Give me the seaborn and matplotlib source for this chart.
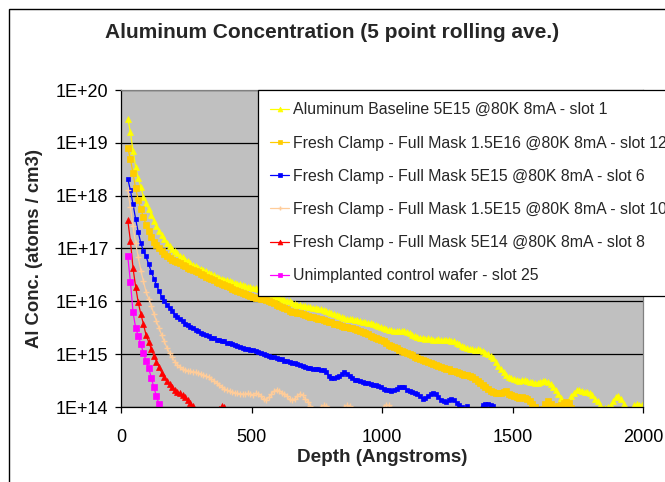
import numpy as np
import pandas as pd
import matplotlib
matplotlib.use("Agg")
import matplotlib.pyplot as plt
from matplotlib.patches import Rectangle
import seaborn as sns

# ---------------- data ----------------
depth_start = 26   # Angstrom, depth of first averaged sample
depth_step = 10    # Angstrom between samples

series_labels = [
    "Aluminum Baseline 5E15 @80K 8mA - slot 1",
    "Fresh Clamp - Full Mask 1.5E16 @80K 8mA - slot 12",
    "Fresh Clamp - Full Mask 5E15 @80K 8mA - slot 6",
    "Fresh Clamp - Full Mask 1.5E15 @80K 8mA - slot 10",
    "Fresh Clamp - Full Mask 5E14 @80K 8mA - slot 8",
    "Unimplanted control wafer - slot 25",
]
series_colors = ["#FFFF00", "#FFCC00", "#0000FF", "#FFCC99", "#FF0000", "#FF00FF"]

# log10 of Al concentration (atoms/cm3)
slot1_log = [
    19.46, 19.20, 18.85, 18.55, 18.33, 18.16, 17.98, 17.86, 17.74, 17.64,
    17.52, 17.42, 17.34, 17.26, 17.18, 17.11, 17.05, 16.99, 16.95, 16.91,
    16.86, 16.83, 16.79, 16.76, 16.72, 16.69, 16.67, 16.64, 16.62, 16.59,
    16.57, 16.54, 16.51, 16.49, 16.47, 16.45, 16.43, 16.41, 16.40, 16.38,
    16.36, 16.35, 16.33, 16.32, 16.30, 16.29, 16.28, 16.27, 16.26, 16.25,
    16.23, 16.21, 16.19, 16.17, 16.15, 16.13, 16.10, 16.08, 16.06, 16.04,
    16.03, 16.01, 16.00, 15.97, 15.95, 15.94, 15.93, 15.92, 15.91, 15.90,
    15.89, 15.88, 15.87, 15.86, 15.85, 15.84, 15.82, 15.80, 15.78, 15.76,
    15.74, 15.72, 15.70, 15.68, 15.67, 15.66, 15.66, 15.65, 15.65, 15.63,
    15.61, 15.60, 15.59, 15.59, 15.58, 15.56, 15.54, 15.52, 15.50, 15.48,
    15.46, 15.45, 15.44, 15.44, 15.43, 15.43, 15.43, 15.42, 15.40, 15.37,
    15.35, 15.33, 15.31, 15.30, 15.29, 15.30, 15.28, 15.27, 15.27, 15.28,
    15.27, 15.26, 15.27, 15.26, 15.25, 15.24, 15.22, 15.19, 15.16, 15.13,
    15.11, 15.10, 15.09, 15.08, 15.09, 15.08, 15.06, 15.03, 15.01, 14.97,
    14.92, 14.86, 14.78, 14.72, 14.66, 14.60, 14.57, 14.55, 14.53, 14.52,
    14.50, 14.51, 14.51, 14.49, 14.48, 14.47, 14.46, 14.45, 14.48, 14.50,
    14.49, 14.48, 14.44, 14.38, 14.32, 14.25, 14.17, 14.10, 14.06, 14.12,
    14.20, 14.27, 14.32, 14.33, 14.31, 14.29, 14.28, 14.26, 14.22, 14.16,
    14.11, 14.03, 13.96, 13.98, 14.00, 14.03, 14.12, 14.19, 14.21, 14.15,
    14.06, 13.98, 13.88, 13.95, 14.04, 14.05, 14.04, 14.03,
]
slot12_log = [
    18.91, 18.69, 18.43, 18.14, 17.92, 17.75, 17.59, 17.45, 17.33, 17.22,
    17.13, 17.06, 17.01, 16.95, 16.90, 16.86, 16.82, 16.79, 16.77, 16.74,
    16.72, 16.69, 16.66, 16.63, 16.61, 16.59, 16.57, 16.55, 16.52, 16.50,
    16.47, 16.45, 16.42, 16.40, 16.37, 16.35, 16.33, 16.31, 16.29, 16.27,
    16.24, 16.22, 16.20, 16.18, 16.16, 16.14, 16.12, 16.10, 16.08, 16.07,
    16.06, 16.05, 16.04, 16.02, 16.00, 15.98, 15.96, 15.94, 15.92, 15.90,
    15.88, 15.85, 15.82, 15.80, 15.79, 15.78, 15.77, 15.76, 15.75, 15.73,
    15.71, 15.70, 15.69, 15.67, 15.66, 15.65, 15.63, 15.61, 15.60, 15.58,
    15.57, 15.55, 15.54, 15.52, 15.51, 15.50, 15.49, 15.47, 15.46, 15.44,
    15.42, 15.40, 15.38, 15.35, 15.33, 15.31, 15.29, 15.27, 15.24, 15.21,
    15.18, 15.16, 15.14, 15.11, 15.08, 15.06, 15.04, 15.02, 15.00, 14.98,
    14.95, 14.93, 14.91, 14.89, 14.87, 14.85, 14.83, 14.81, 14.79, 14.77,
    14.75, 14.73, 14.72, 14.71, 14.69, 14.68, 14.66, 14.64, 14.62, 14.61,
    14.60, 14.59, 14.56, 14.53, 14.49, 14.45, 14.41, 14.37, 14.34, 14.31,
    14.29, 14.27, 14.26, 14.26, 14.29, 14.30, 14.25, 14.22, 14.20, 14.18,
    14.17, 14.18, 14.17, 14.15, 14.12, 14.06, 14.00, 13.94, 13.94, 13.97,
    14.05, 14.12, 14.06, 13.99, 13.99, 14.02, 14.04, 14.08, 14.10, 14.07,
    13.98, 13.90,
]
slot6_log = [
    18.32, 18.10, 17.84, 17.56, 17.31, 17.10, 16.95, 16.85, 16.70, 16.56,
    16.43, 16.31, 16.19, 16.09, 16.00, 15.93, 15.87, 15.81, 15.75, 15.70,
    15.66, 15.62, 15.58, 15.55, 15.52, 15.49, 15.46, 15.44, 15.41, 15.39,
    15.36, 15.34, 15.31, 15.30, 15.27, 15.26, 15.25, 15.24, 15.22, 15.21,
    15.19, 15.17, 15.15, 15.13, 15.11, 15.10, 15.09, 15.08, 15.07, 15.06,
    15.04, 15.02, 15.00, 14.98, 14.96, 14.95, 14.94, 14.92, 14.91, 14.90,
    14.88, 14.87, 14.85, 14.84, 14.83, 14.82, 14.79, 14.77, 14.76, 14.74,
    14.73, 14.72, 14.71, 14.71, 14.70, 14.70, 14.66, 14.59, 14.54, 14.55,
    14.56, 14.58, 14.62, 14.67, 14.63, 14.58, 14.55, 14.52, 14.51, 14.49,
    14.47, 14.46, 14.45, 14.43, 14.42, 14.41, 14.39, 14.37, 14.35, 14.33,
    14.32, 14.31, 14.32, 14.35, 14.37, 14.38, 14.37, 14.33, 14.30, 14.28,
    14.27, 14.25, 14.20, 14.16, 14.17, 14.20, 14.24, 14.26, 14.25, 14.19,
    14.14, 14.11, 14.10, 14.13, 14.16, 14.14, 14.08, 14.03, 14.00, 13.97,
    14.01, 13.95, 13.90, 13.88, 13.92, 13.97, 14.04, 14.06, 14.06, 14.03,
    14.01, 13.94, 13.90,
]
slot10_log = [
    18.10, 17.78, 17.42, 17.10, 16.84, 16.58, 16.38, 16.18, 16.05, 15.92,
    15.76, 15.62, 15.49, 15.36, 15.24, 15.12, 15.02, 14.94, 14.86, 14.80,
    14.76, 14.72, 14.70, 14.69, 14.68, 14.67, 14.66, 14.64, 14.62, 14.60,
    14.58, 14.56, 14.53, 14.50, 14.46, 14.42, 14.38, 14.35, 14.32, 14.30,
    14.28, 14.27, 14.26, 14.25, 14.25, 14.24, 14.26, 14.24, 14.22, 14.26,
    14.25, 14.20, 14.16, 14.14, 14.18, 14.24, 14.30, 14.33, 14.31, 14.27,
    14.25, 14.20, 14.15, 14.13, 14.16, 14.21, 14.25, 14.22, 14.16, 14.10,
    14.02, 13.95, 13.90, 13.94, 14.00, 14.03, 14.01, 13.96, 13.92, 13.90,
    13.88, 13.90, 13.94, 14.00, 14.03, 14.02, 13.97, 13.92, 13.88, 13.86,
    13.88, 13.90, 13.89, 13.87, 13.88, 13.90, 13.92, 13.95, 14.00, 14.04,
    14.03, 13.97, 13.90,
]
slot8_log = [
    17.53, 17.15, 16.63, 16.28, 15.98, 15.76, 15.57, 15.36, 15.23, 15.10,
    14.97, 14.86, 14.76, 14.65, 14.56, 14.49, 14.43, 14.37, 14.33, 14.29,
    14.26, 14.22, 14.18, 14.13, 14.07, 14.01, 13.95, 13.90, 13.86, 13.84,
    13.82, 13.84, 13.86, 13.88, 13.92, 13.97, 14.01, 14.00, 13.94, 13.88,
]
slot25_log = [
    16.85, 16.37, 15.80, 15.50, 15.35, 15.19, 15.02, 14.88, 14.74, 14.55,
    14.37, 14.20, 14.05, 13.90,
]

series_logs = [slot1_log, slot12_log, slot6_log, slot10_log, slot8_log, slot25_log]
series_markers = ["^", "s", "s", "+", "^", "s"]
series_msize = [4.2, 4.0, 2.2, 4.5, 4.2, 4.0]

x_ticks = [0, 500, 1000, 1500, 2000]
y_ticks = [1e14, 1e15, 1e16, 1e17, 1e18, 1e19, 1e20]
y_tick_labels = ["1E+14", "1E+15", "1E+16", "1E+17", "1E+18", "1E+19", "1E+20"]

title = "Aluminum Concentration (5 point rolling ave.)"
x_label = "Depth (Angstroms)"
y_label = "Al Conc. (atoms / cm3)"

# ---------------- build long table ----------------
frames = []
for label, logs in zip(series_labels, series_logs):
    n = len(logs)
    frames.append(pd.DataFrame({
        "Depth": depth_start + depth_step * np.arange(n),
        "Conc": np.power(10.0, np.array(logs)),
        "Series": label,
    }))
data = pd.concat(frames, ignore_index=True)

# ---------------- style ----------------
sns.set_theme(style="white")
plt.rcParams["font.family"] = ["Liberation Sans", "DejaVu Sans"]

W, H = 665, 482
fig = plt.figure(figsize=(W / 100, H / 100), dpi=100)
fig.patch.set_facecolor("white")

# outer chart border (partly cut off at right/bottom as in reference)
fig.patches.append(Rectangle((8.5 / W, -0.1), 1.2, 1 - 8.5 / H + 0.1,
                             transform=fig.transFigure, fill=False,
                             edgecolor="black", linewidth=1.0, zorder=0))

ax = fig.add_axes([121 / W, 1 - 407 / H, (643 - 121) / W, (407 - 90) / H])
ax.set_facecolor("#C0C0C0")

for label, color, mk, ms in zip(series_labels, series_colors, series_markers, series_msize):
    sub = data[data["Series"] == label]
    sns.lineplot(data=sub, x="Depth", y="Conc", ax=ax, color=color,
                 marker=mk, markersize=ms, markeredgecolor=color,
                 markerfacecolor=color, markeredgewidth=1.0 if mk == "+" else 0.5,
                 linewidth=0.9, label=label, estimator=None, sort=False)

ax.set_yscale("log")
ax.set_xlim(0, 2000)
ax.set_ylim(1e14, 1e20)
ax.set_xticks(x_ticks)
ax.set_xticklabels([str(v) for v in x_ticks])
ax.set_yticks(y_ticks)
ax.set_yticklabels(y_tick_labels)
ax.minorticks_off()
ax.yaxis.grid(True, color="black", linewidth=0.9)
ax.xaxis.grid(False)
ax.set_axisbelow(True)

for side in ["left", "bottom"]:
    ax.spines[side].set_color("black")
    ax.spines[side].set_linewidth(0.9)
for side in ["top", "right"]:
    ax.spines[side].set_color("#808080")
    ax.spines[side].set_linewidth(0.9)

ax.tick_params(axis="both", direction="out", length=4, width=0.9, color="black",
               labelsize=13, labelcolor="black")
ax.tick_params(axis="y", pad=5, left=True)
ax.tick_params(axis="x", pad=12, bottom=True)

ax.set_xlabel(x_label, fontsize=13.6, fontweight="bold", labelpad=2)
ax.set_ylabel(y_label, fontsize=13.3, fontweight="bold", labelpad=9)

fig.text(0.5, 1 - 32 / H, title, ha="center", va="center",
         fontsize=15, fontweight="bold")

leg = ax.legend(loc="upper left", bbox_to_anchor=(258 / W, 1 - 90 / H),
                bbox_transform=fig.transFigure, frameon=True, fancybox=False,
                framealpha=1.0, edgecolor="black", facecolor="white",
                fontsize=11.4, labelspacing=1.15, borderpad=0.78,
                handlelength=1.2, handletextpad=0.23, borderaxespad=0)
leg.get_frame().set_linewidth(0.9)
for h in leg.legend_handles:
    h.set_markersize(3.5)

fig.savefig("out.png", dpi=100)
